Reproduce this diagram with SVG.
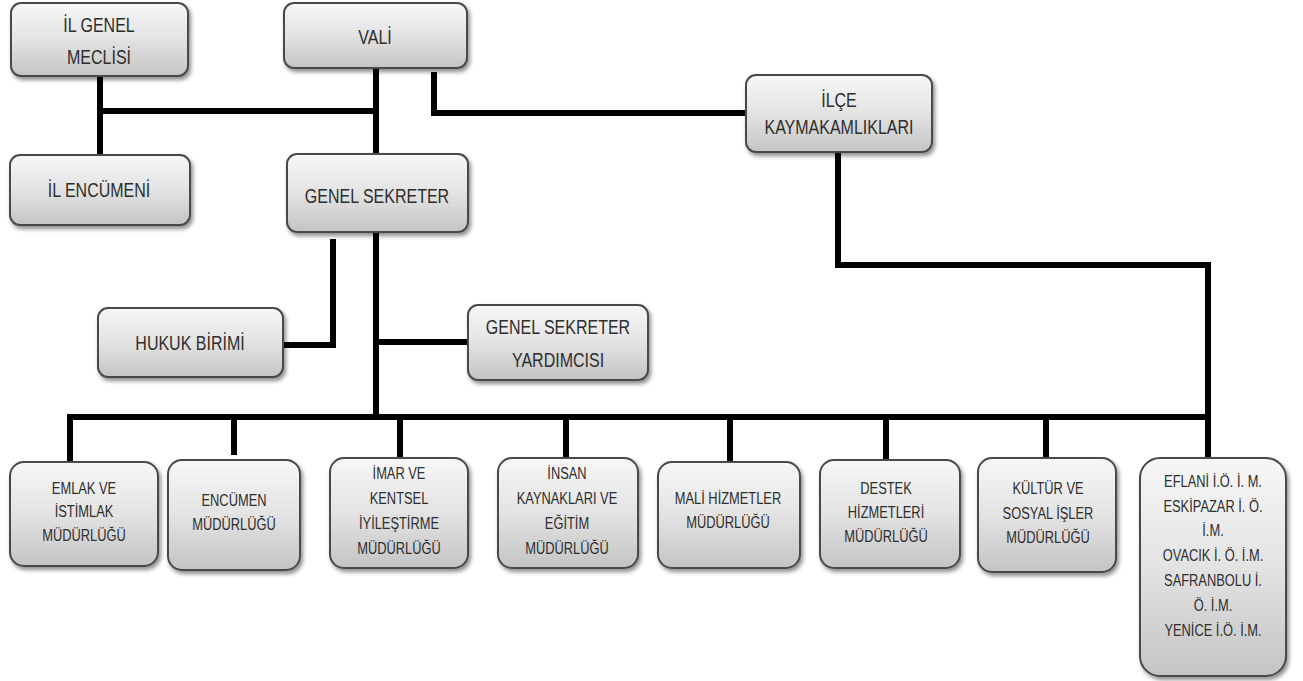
<svg xmlns="http://www.w3.org/2000/svg" width="1303" height="681" viewBox="0 0 1303 681">
<defs>
<linearGradient id="g" x1="0" y1="0" x2="0" y2="1">
<stop offset="0" stop-color="#f7f7f7"/>
<stop offset="0.5" stop-color="#e3e3e3"/>
<stop offset="1" stop-color="#c4c4c4"/>
</linearGradient>
<filter id="sh" x="-10%" y="-10%" width="125%" height="130%">
<feGaussianBlur in="SourceAlpha" stdDeviation="2"/>
<feOffset dx="2" dy="3" result="o"/>
<feComponentTransfer><feFuncA type="linear" slope="0.45"/></feComponentTransfer>
<feMerge><feMergeNode/><feMergeNode in="SourceGraphic"/></feMerge>
</filter>
</defs>
<style>
.box{fill:url(#g);stroke:#4a4a4a;stroke-width:2;filter:url(#sh)}
.t{font-family:"Liberation Sans",Arial,sans-serif;fill:#2e2e2e;text-anchor:middle;dominant-baseline:central}
.big{font-size:20px}
.sm{font-size:16.5px}
.c{fill:none;stroke:#000;stroke-width:6;stroke-linecap:square;stroke-linejoin:miter}
</style>
<rect width="1303" height="681" fill="#fff"/>
<g id="connectors">
<path class="c" d="M100 78 V155"/>
<path class="c" d="M100 111 H376"/>
<path class="c" d="M376 70 V154"/>
<path class="c" d="M434 75 V113 H745"/>
<path class="c" d="M838 154 V265 H1208 V458"/>
<path class="c" d="M376 234 V417"/>
<path class="c" d="M333 242 V345 H285"/>
<path class="c" d="M376 342 H467"/>
<path class="c" d="M70 462 V417 H1208"/>
<path class="c" d="M234 417 V452"/>
<path class="c" d="M400 417 V458"/>
<path class="c" d="M566 417 V458"/>
<path class="c" d="M730 417 V461"/>
<path class="c" d="M886 417 V460"/>
<path class="c" d="M1046 417 V458"/>
</g>
<g id="il-genel-meclisi"><rect class="box" x="11" y="3" width="177" height="73" rx="10"/>
<text class="t big" transform="translate(99 25) scale(0.8 1)">İL GENEL</text><text class="t big" transform="translate(99 57) scale(0.8 1)">MECLİSİ</text></g>
<g id="vali"><rect class="box" x="284" y="3" width="183" height="65" rx="10"/>
<text class="t big" transform="translate(375 37) scale(0.8 1)">VALİ</text></g>
<g id="il-encumeni"><rect class="box" x="10" y="155" width="180" height="70" rx="10"/>
<text class="t big" transform="translate(99 190) scale(0.8 1)">İL ENCÜMENİ</text></g>
<g id="genel-sekreter"><rect class="box" x="287" y="154" width="181" height="78" rx="10"/>
<text class="t big" transform="translate(377 196) scale(0.8 1)">GENEL SEKRETER</text></g>
<g id="ilce-kaymakamliklari"><rect class="box" x="746" y="75" width="186" height="77" rx="10"/>
<text class="t big" transform="translate(839 100) scale(0.8 1)">İLÇE</text><text class="t big" transform="translate(839 127) scale(0.8 1)">KAYMAKAMLIKLARI</text></g>
<g id="hukuk-birimi"><rect class="box" x="98" y="308" width="185" height="69" rx="10"/>
<text class="t big" transform="translate(190 343) scale(0.8 1)">HUKUK BİRİMİ</text></g>
<g id="genel-sekreter-yardimcisi"><rect class="box" x="468" y="305" width="180" height="75" rx="10"/>
<text class="t big" transform="translate(558 327) scale(0.8 1)">GENEL SEKRETER</text><text class="t big" transform="translate(558 360) scale(0.8 1)">YARDIMCISI</text></g>
<g id="emlak"><rect class="box" x="10" y="462" width="148" height="104" rx="14"/>
<text class="t sm" transform="translate(84 488) scale(0.78 1)">EMLAK VE</text><text class="t sm" transform="translate(84 511) scale(0.78 1)">İSTİMLAK</text><text class="t sm" transform="translate(84 535) scale(0.78 1)">MÜDÜRLÜĞÜ</text></g>
<g id="encumen"><rect class="box" x="168" y="460" width="132" height="110" rx="14"/>
<text class="t sm" transform="translate(234 500) scale(0.78 1)">ENCÜMEN</text><text class="t sm" transform="translate(234 524) scale(0.78 1)">MÜDÜRLÜĞÜ</text></g>
<g id="imar"><rect class="box" x="330" y="458" width="138" height="110" rx="14"/>
<text class="t sm" transform="translate(399 473) scale(0.78 1)">İMAR VE</text><text class="t sm" transform="translate(399 498) scale(0.78 1)">KENTSEL</text><text class="t sm" transform="translate(399 523) scale(0.78 1)">İYİLEŞTİRME</text><text class="t sm" transform="translate(399 548) scale(0.78 1)">MÜDÜRLÜĞÜ</text></g>
<g id="insan"><rect class="box" x="498" y="458" width="140" height="110" rx="14"/>
<text class="t sm" transform="translate(567 473) scale(0.78 1)">İNSAN</text><text class="t sm" transform="translate(567 498) scale(0.78 1)">KAYNAKLARI VE</text><text class="t sm" transform="translate(567 523) scale(0.78 1)">EĞİTİM</text><text class="t sm" transform="translate(567 548) scale(0.78 1)">MÜDÜRLÜĞÜ</text></g>
<g id="mali"><rect class="box" x="658" y="462" width="142" height="106" rx="14"/>
<text class="t sm" transform="translate(728 498) scale(0.78 1)">MALİ HİZMETLER</text><text class="t sm" transform="translate(728 522) scale(0.78 1)">MÜDÜRLÜĞÜ</text></g>
<g id="destek"><rect class="box" x="820" y="460" width="140" height="108" rx="14"/>
<text class="t sm" transform="translate(886 488) scale(0.78 1)">DESTEK</text><text class="t sm" transform="translate(886 512) scale(0.78 1)">HİZMETLERİ</text><text class="t sm" transform="translate(886 536) scale(0.78 1)">MÜDÜRLÜĞÜ</text></g>
<g id="kultur"><rect class="box" x="978" y="458" width="138" height="114" rx="14"/>
<text class="t sm" transform="translate(1048 488) scale(0.78 1)">KÜLTÜR VE</text><text class="t sm" transform="translate(1048 513) scale(0.78 1)">SOSYAL İŞLER</text><text class="t sm" transform="translate(1048 537) scale(0.78 1)">MÜDÜRLÜĞÜ</text></g>
<g id="ilce-mudurlukleri"><rect class="box" x="1140" y="458" width="146" height="218" rx="20"/>
<text class="t sm" transform="translate(1213 481) scale(0.78 1)">EFLANİ İ.Ö. İ. M.</text><text class="t sm" transform="translate(1213 506) scale(0.78 1)">ESKİPAZAR İ. Ö.</text><text class="t sm" transform="translate(1213 530) scale(0.78 1)">İ.M.</text><text class="t sm" transform="translate(1213 555) scale(0.78 1)">OVACIK İ. Ö. İ.M.</text><text class="t sm" transform="translate(1213 580) scale(0.78 1)">SAFRANBOLU İ.</text><text class="t sm" transform="translate(1213 605) scale(0.78 1)">Ö. İ.M.</text><text class="t sm" transform="translate(1213 630) scale(0.78 1)">YENİCE İ.Ö. İ.M.</text></g>
</svg>
